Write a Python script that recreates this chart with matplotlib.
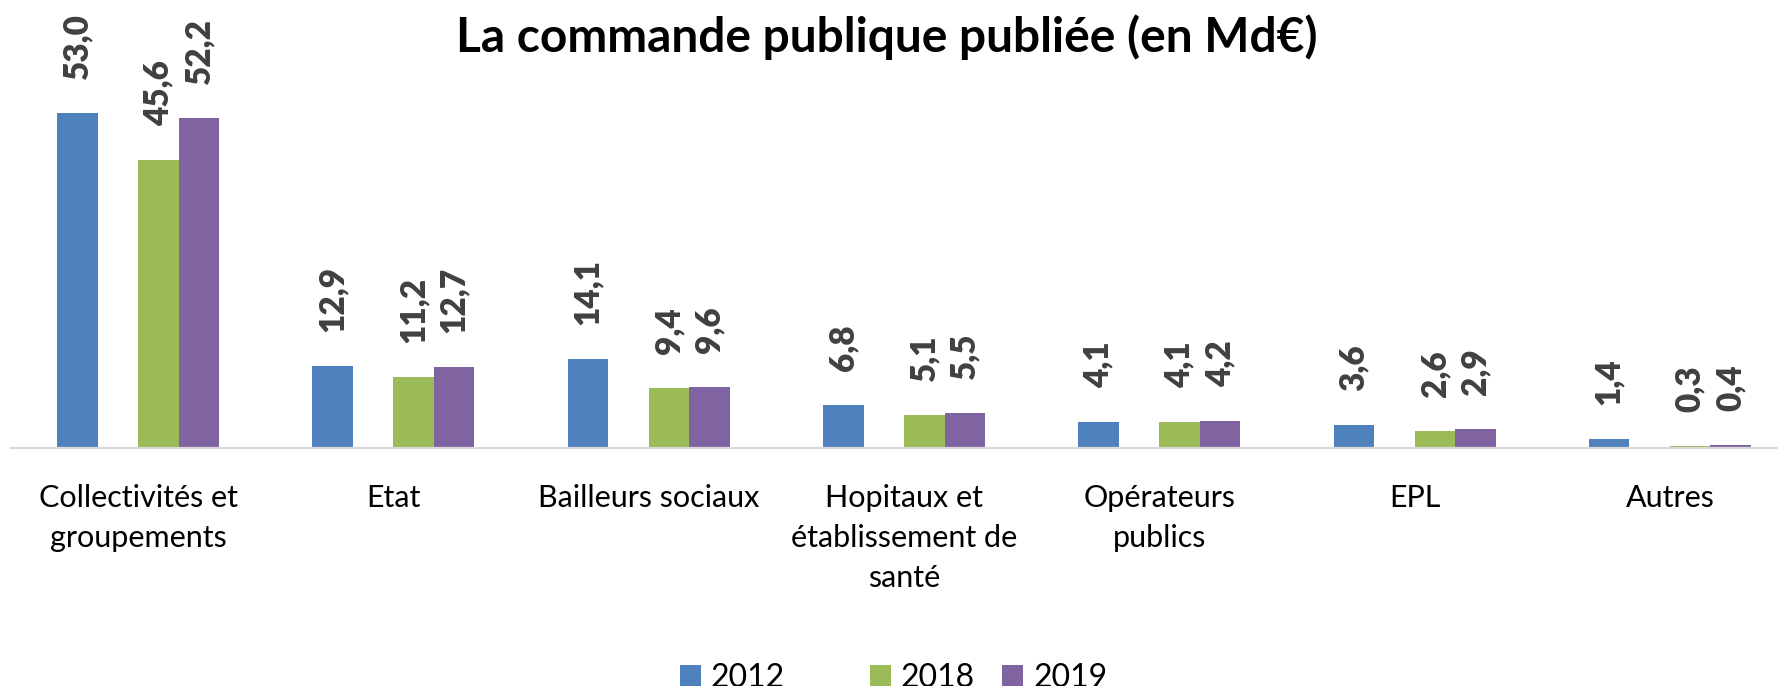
import matplotlib
matplotlib.use("Agg")
import matplotlib.pyplot as plt
from matplotlib.patches import Patch
import numpy as np

categories = ["Collectivités et\ngroupements", "Etat", "Bailleurs sociaux",
              "Hopitaux et\nétablissement de\nsanté", "Opérateurs\npublics", "EPL", "Autres"]
years = ["2012", "2018", "2019"]
v2012 = [53.0, 12.9, 14.1, 6.8, 4.1, 3.6, 1.4]
v2018 = [45.6, 11.2, 9.4, 5.1, 4.1, 2.6, 0.3]
v2019 = [52.2, 12.7, 9.6, 5.5, 4.2, 2.9, 0.4]
title = "La commande publique publiée (en Md€)"

colors = ["#4F81BD", "#9BBB59", "#8064A2"]
series = [v2012, v2018, v2019]
# slot index inside the group (slot 1 is an empty, hidden series)
slots = [0, 2, 3]

W, H = 1778, 686
fig = plt.figure(figsize=(W / 100, H / 100), dpi=100)
base_px = 447.5
ax = fig.add_axes([10.5 / W, (H - base_px) / H, 1 - 10.5 / W, base_px / H])

x = np.arange(len(categories))
bw = 40.5 / 255.3
for vals, col, s in zip(series, colors, slots):
    pos = x + (s - 1.5) * bw
    bars = ax.bar(pos, vals, width=bw, color=col, edgecolor="none", zorder=2)
    for b, v in zip(bars, vals):
        ax.annotate(f"{v:.1f}".replace(".", ","),
                    xy=(b.get_x() + b.get_width() / 2, b.get_height()),
                    xytext=(0, 24.5), textcoords="offset points",
                    rotation=90, ha="center", va="bottom",
                    fontsize=24, fontweight="heavy", family="Lato",
                    color="#404040")

ax.set_xlim(-0.5, -0.5 + (W - 10.5) / 255.3)
ax.set_ylim(0, base_px / 6.31)
for sp in ["top", "right", "left"]:
    ax.spines[sp].set_visible(False)
ax.spines["bottom"].set_color("#D9D9D9")
ax.spines["bottom"].set_linewidth(1.6)
ax.set_yticks([])
ax.set_xticks(x)
ax.set_xticklabels(categories, fontsize=22, family="Lato", color="black",
                   linespacing=1.52)
ax.tick_params(axis="x", length=0, pad=26)

fig.text(887 / W, (H - 52) / H, title, ha="center", va="baseline",
         fontsize=34.5, fontweight="bold", family="Lato", color="black")

handles = [Patch(facecolor=colors[0]), Patch(facecolor="none", edgecolor="none"),
           Patch(facecolor=colors[1]), Patch(facecolor=colors[2])]
labels = [years[0], "", years[1], years[2]]
fig.legend(handles, labels, loc="center", bbox_to_anchor=(893.5 / W, (H - 678) / H),
           ncol=4, frameon=False, prop={"family": "Lato", "size": 23},
           handlelength=0.66, handleheight=0.66, handletextpad=0.31,
           columnspacing=0.85, borderpad=0, borderaxespad=0)

fig.savefig("out.png", dpi=100)
